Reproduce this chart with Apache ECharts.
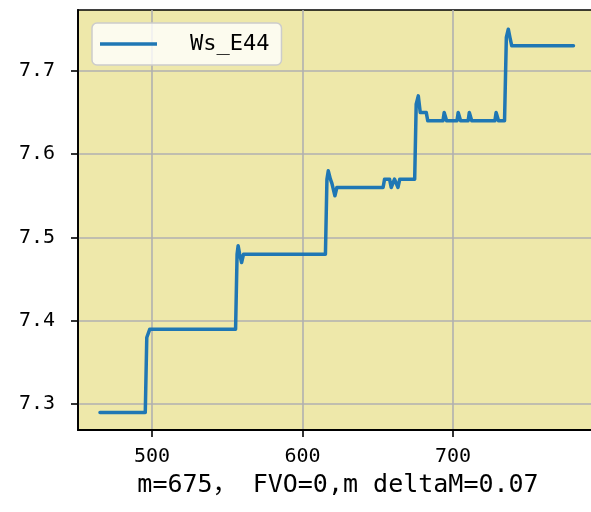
<!DOCTYPE html>
<html>
<head>
<meta charset="utf-8">
<script src="https://cdn.jsdelivr.net/npm/echarts@6/dist/echarts.min.js"></script>
<style>
html,body{margin:0;padding:0;background:#fff;}
#chart{width:591px;height:512px;}
</style>
</head>
<body>
<div id="chart"></div>
<script>
var seriesName = 'Ws_E44';
var xLabel = 'm=675， FVO=0,m deltaM=0.07';
var xTicks = [500, 600, 700];
var yTicks = [7.3, 7.4, 7.5, 7.6, 7.7];
var xValues = [465.4, 495.5, 496.5, 498.5, 555.5, 556.5, 557.2, 558.2, 559.5, 560.8,
  615.2, 616.2, 617.1, 618.5, 619.5, 621.5, 622.8, 653.5, 654.5, 657.8,
  658.9, 661.1, 663.4, 664.6, 674.5, 675.5, 676.9, 678.2, 679.5, 682.2,
  683.2, 693.3, 694.1, 694.9, 695.7, 702.6, 703.4, 704.2, 705.0, 710.0,
  710.8, 711.6, 712.4, 727.8, 728.6, 729.4, 730.2, 734.2, 735.4, 736.7,
  737.8, 739, 780];
var yValues = [7.29, 7.29, 7.38, 7.39, 7.39, 7.48, 7.49, 7.48, 7.47, 7.48,
  7.48, 7.57, 7.58, 7.57, 7.565, 7.55, 7.56, 7.56, 7.57, 7.57,
  7.56, 7.57, 7.56, 7.57, 7.57, 7.66, 7.67, 7.65, 7.65, 7.65,
  7.64, 7.64, 7.65, 7.65, 7.64, 7.64, 7.65, 7.65, 7.64, 7.64,
  7.65, 7.65, 7.64, 7.64, 7.65, 7.65, 7.64, 7.64, 7.74, 7.75,
  7.74, 7.73, 7.73];

var data = xValues.map(function (x, i) { return [x, yValues[i]]; });
var FONT = '"DejaVu Sans Mono", "Noto Sans CJK SC", monospace';

var chart = echarts.init(document.getElementById('chart'), null, {renderer: 'canvas'});
chart.setOption({
  animation: false,
  backgroundColor: '#ffffff',
  grid: {
    left: 78, top: 10, width: 520, height: 420,
    show: true, backgroundColor: '#EEE8AA',
    borderColor: '#000000', borderWidth: 1.6,
    containLabel: false,
    outerBoundsMode: 'none'
  },
  legend: {
    left: 92, top: 23,
    padding: [10, 12, 10, 8],
    backgroundColor: 'rgba(255,255,255,0.8)',
    borderColor: '#cccccc', borderWidth: 1.5, borderRadius: 5,
    icon: 'rect', itemWidth: 57, itemHeight: 3.5,
    textStyle: {fontFamily: FONT, fontSize: 22, color: '#000', padding: [0, 0, 0, 28]},
    data: [seriesName]
  },
  xAxis: {
    type: 'value', min: 450.8, max: 796.3,
    name: xLabel, nameLocation: 'middle', nameGap: 43,
    nameTextStyle: {fontFamily: FONT, fontSize: 25, color: '#000'},
    axisLine: {show: true, onZero: false, lineStyle: {color: '#000', width: 1.8}},
    axisTick: {show: true, length: 7, customValues: xTicks, lineStyle: {color: '#000', width: 1.6}},
    axisLabel: {customValues: xTicks, margin: 17, fontFamily: FONT, fontSize: 20, color: '#000'},
    splitLine: {show: true, lineStyle: {color: '#b0b0b0', width: 1.6}}
  },
  yAxis: {
    type: 'value', min: 7.269, max: 7.773,
    axisLine: {show: true, onZero: false, lineStyle: {color: '#000', width: 1.8}},
    axisTick: {show: true, length: 7, customValues: yTicks, lineStyle: {color: '#000', width: 1.6}},
    axisLabel: {customValues: yTicks, margin: 23, fontFamily: FONT, fontSize: 20, color: '#000',
      formatter: function (v) { return v.toFixed(1); }},
    splitLine: {show: true, lineStyle: {color: '#b0b0b0', width: 1.6}}
  },
  series: [{
    name: seriesName, type: 'line', data: data,
    showSymbol: false, symbol: 'none',
    color: '#1f77b4',
    lineStyle: {color: '#1f77b4', width: 3.5, join: 'round', cap: 'round'},
    itemStyle: {color: '#1f77b4'}
  }]
});
</script>
</body>
</html>
